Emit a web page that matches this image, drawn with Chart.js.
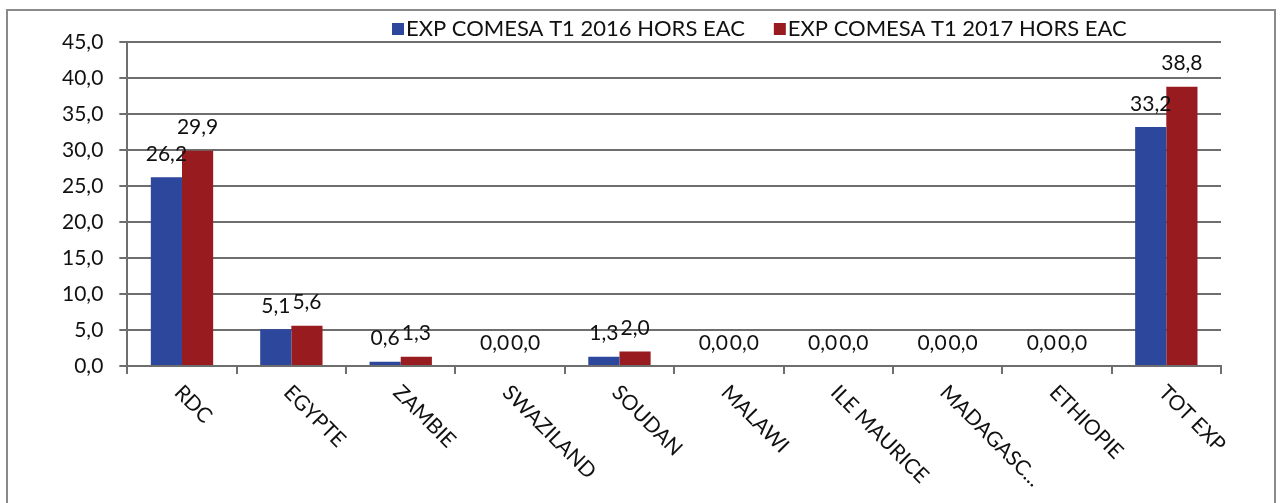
<!DOCTYPE html>
<html>
<head>
<meta charset="utf-8">
<script src="https://cdn.jsdelivr.net/npm/chart.js@4.4.1/dist/chart.umd.min.js"></script>
<style>
  html, body { margin: 0; padding: 0; background: #fff; }
  #wrap { width: 1283px; height: 503px; }
</style>
</head>
<body>
<div id="wrap"><canvas id="chart" width="1283" height="503"></canvas></div>
<script>
const categories = ["RDC", "EGYPTE", "ZAMBIE", "SWAZILAND", "SOUDAN", "MALAWI", "ILE MAURICE", "MADAGASC...", "ETHIOPIE", "TOT EXP"];
const exp2016 = [26.2, 5.1, 0.6, 0.0, 1.3, 0.0, 0.0, 0.0, 0.0, 33.2];
const exp2017 = [29.9, 5.6, 1.3, 0.0, 2.0, 0.0, 0.0, 0.0, 0.0, 38.8];
const seriesNames = ["EXP COMESA T1 2016 HORS EAC", "EXP COMESA T1 2017 HORS EAC"];

const FONT = "Lato";
const INK = "#111";
const fmt = (v) => v.toFixed(1).replace(".", ",");

// value labels above bars + rotated category labels + legend + frame
const extras = {
  id: "extras",
  afterDraw(chart) {
    const ctx = chart.ctx;
    ctx.save();

    // outer frame
    ctx.strokeStyle = "#8a8a8a";
    ctx.lineWidth = 2;
    ctx.strokeRect(7, 10, 1268, 520);

    // bar values
    ctx.fillStyle = INK;
    ctx.font = "21px " + FONT;
    ctx.textAlign = "center";
    ctx.textBaseline = "middle";
    chart.data.datasets.forEach((ds, i) => {
      chart.getDatasetMeta(i).data.forEach((bar, j) => {
        ctx.fillText(fmt(ds.data[j]), bar.x, bar.y - 23);
      });
    });

    // category labels, rotated down-right
    const xs = chart.scales.x;
    const bottom = chart.chartArea.bottom;
    ctx.font = "21px " + FONT;
    ctx.textAlign = "left";
    categories.forEach((c, i) => {
      const x = xs.getPixelForValue(i);
      ctx.save();
      ctx.translate(x - 4, bottom + 23);
      ctx.rotate(Math.PI / 4);
      ctx.fillText(c, 0, 0);
      ctx.restore();
    });

    // legend
    ctx.font = "22px " + FONT;
    ctx.textAlign = "left";
    let lx = 392;
    const ly = 29;
    chart.data.datasets.forEach((ds) => {
      ctx.fillStyle = ds.backgroundColor;
      ctx.fillRect(lx, ly - 6, 12, 12);
      ctx.fillStyle = INK;
      ctx.fillText(ds.label, lx + 14, ly);
      lx += 14 + ctx.measureText(ds.label).width + 29;
    });

    ctx.restore();
  },
};

new Chart(document.getElementById("chart"), {
  type: "bar",
  data: {
    labels: categories,
    datasets: [
      { label: seriesNames[0], data: exp2016, backgroundColor: "#2d479c" },
      { label: seriesNames[1], data: exp2017, backgroundColor: "#981b1f" },
    ],
  },
  options: {
    responsive: false,
    animation: false,
    layout: { padding: { top: 42, left: 46, right: 62, bottom: 129 } },
    plugins: {
      legend: { display: false },
      tooltip: { enabled: false },
    },
    datasets: {
      bar: { barPercentage: 1.0, categoryPercentage: 0.57 },
    },
    scales: {
      x: {
        ticks: { display: false },
        grid: { drawOnChartArea: false, drawTicks: true, tickLength: 8, color: "#6e6e6e", lineWidth: 2 },
        border: { color: "#6e6e6e", width: 2 },
      },
      y: {
        min: 0,
        max: 45,
        ticks: {
          stepSize: 5,
          padding: 16,
          color: INK,
          font: { family: FONT, size: 21 },
          callback: (v) => fmt(v),
        },
        grid: { color: "#6e6e6e", lineWidth: 2, tickLength: 8 },
        border: { color: "#6e6e6e", width: 2 },
      },
    },
  },
  plugins: [extras],
});
</script>
</body>
</html>
